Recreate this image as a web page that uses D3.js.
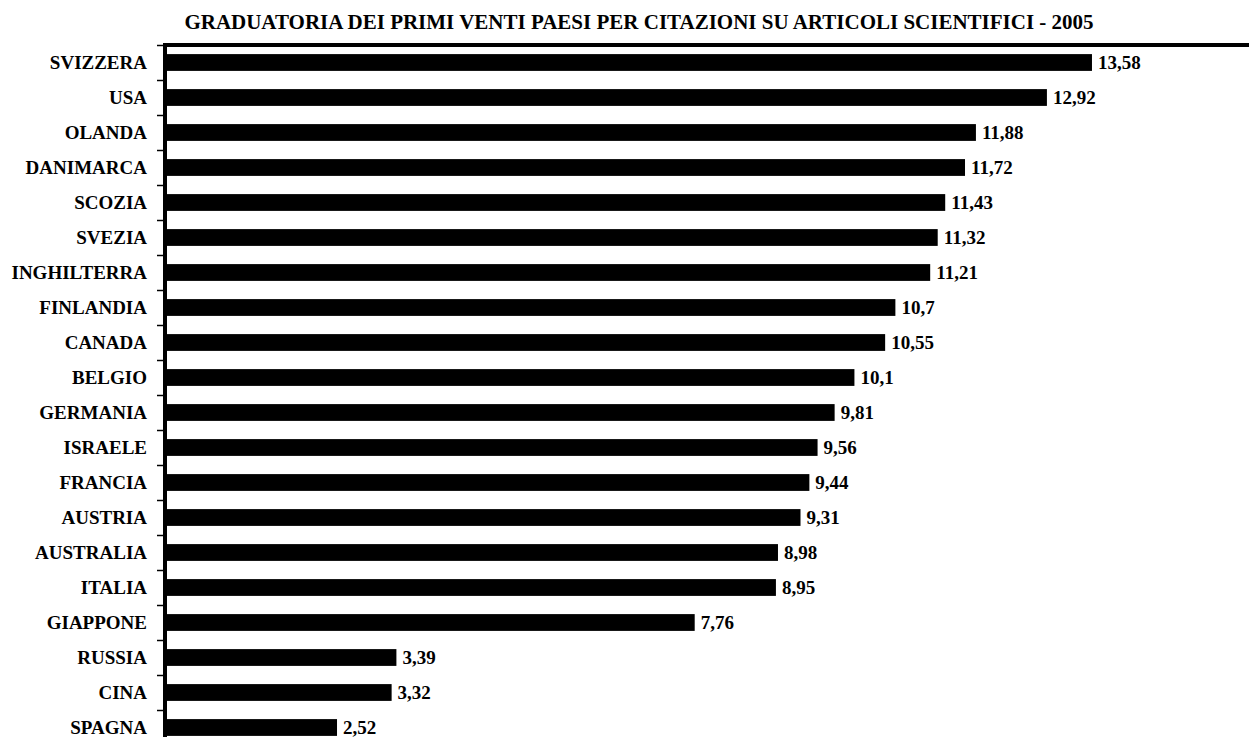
<!DOCTYPE html>
<html>
<head>
<meta charset="utf-8">
<script src="https://cdn.jsdelivr.net/npm/d3@7"></script>
<style>
  body { margin: 0; background: #fff; }
  text { font-family: "Liberation Serif", "Times New Roman", serif; font-weight: bold; fill: #000; }
</style>
</head>
<body>
<script>
// data
var paesi = ["SVIZZERA", "USA", "OLANDA", "DANIMARCA", "SCOZIA", "SVEZIA", "INGHILTERRA",
    "FINLANDIA", "CANADA", "BELGIO", "GERMANIA", "ISRAELE", "FRANCIA", "AUSTRIA",
    "AUSTRALIA", "ITALIA", "GIAPPONE", "RUSSIA", "CINA", "SPAGNA"];
var citazioni = [13.58, 12.92, 11.88, 11.72, 11.43, 11.32, 11.21, 10.7, 10.55, 10.1,
    9.81, 9.56, 9.44, 9.31, 8.98, 8.95, 7.76, 3.39, 3.32, 2.52];
var titolo = "GRADUATORIA DEI PRIMI VENTI PAESI PER CITAZIONI SU ARTICOLI SCIENTIFICI - 2005";

var W = 1249, H = 737,
    plot = {left: 165, top: 45, step: 35},
    font = {title: "21px", label: "19px", value: "19px"};

var data = paesi.map(function(p, i) { return {paese: p, val: citazioni[i]}; });

var svg = d3.select("body").append("svg")
    .attr("width", W)
    .attr("height", H);

var x = d3.scaleLinear()
    .domain([0, 16])
    .range([plot.left, plot.left + 16 * 68.26]);

var bottom = plot.top + plot.step * paesi.length;
var y = d3.scaleBand()
    .domain(paesi)
    .range([plot.top, bottom])
    .paddingInner(0.52)
    .paddingOuter(0.26);

// tick marks at category boundaries
var yTicks = d3.scaleLinear().domain([0, paesi.length]).range([plot.top, bottom]);
svg.append("g")
    .attr("transform", "translate(" + (plot.left - 2) + ",0)")
    .call(d3.axisLeft(yTicks).ticks(paesi.length).tickFormat("").tickSize(6).tickSizeOuter(0))
    .call(function(g) {
        g.select(".domain").remove();
        g.selectAll(".tick line").attr("stroke", "#000").attr("stroke-width", 1.5);
    });

// bars
svg.selectAll(".bar")
    .data(data)
    .enter()
    .append("rect")
        .attr("class", "bar")
        .attr("x", x(0))
        .attr("y", function(d) { return y(d.paese); })
        .attr("width", function(d) { return x(d.val) - x(0); })
        .attr("height", y.bandwidth())
        .attr("fill", "#000");

// value labels
svg.selectAll(".val")
    .data(data)
    .enter()
    .append("text")
        .attr("class", "val")
        .attr("x", function(d) { return x(d.val) + 6; })
        .attr("y", function(d) { return y(d.paese) + y.bandwidth() / 2; })
        .attr("dy", "0.35em")
        .attr("font-size", font.value)
        .text(function(d) { return String(d.val).replace(".", ","); });

// category labels
svg.selectAll(".lab")
    .data(data)
    .enter()
    .append("text")
        .attr("class", "lab")
        .attr("x", plot.left - 18)
        .attr("y", function(d) { return y(d.paese) + y.bandwidth() / 2; })
        .attr("dy", "0.35em")
        .attr("text-anchor", "end")
        .attr("font-size", font.label)
        .text(function(d) { return d.paese; });

// axis line and top border
svg.append("line")
    .attr("x1", plot.left).attr("x2", plot.left)
    .attr("y1", plot.top - 2).attr("y2", bottom)
    .attr("stroke", "#000").attr("stroke-width", 4);
svg.append("line")
    .attr("x1", plot.left - 2).attr("x2", W)
    .attr("y1", plot.top).attr("y2", plot.top)
    .attr("stroke", "#000").attr("stroke-width", 4);

// title
svg.append("text")
    .attr("x", 639)
    .attr("y", 29)
    .attr("text-anchor", "middle")
    .attr("font-size", font.title)
    .text(titolo);
</script>
</body>
</html>
